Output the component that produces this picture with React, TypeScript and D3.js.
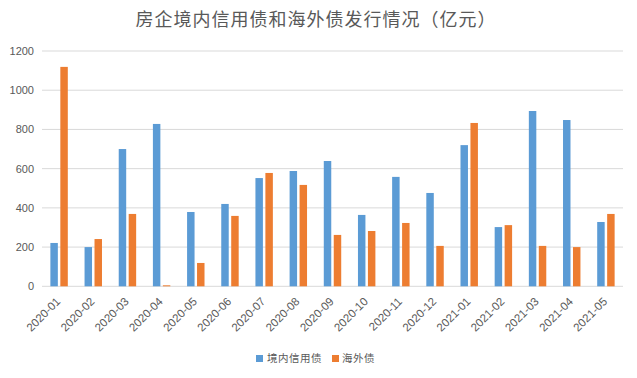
import React from "react";
import * as d3 from "d3";

const categories = ["2020-01","2020-02","2020-03","2020-04","2020-05","2020-06","2020-07","2020-08","2020-09","2020-10","2020-11","2020-12","2021-01","2021-02","2021-03","2021-04","2021-05"];
const domestic = [221,200,700,828,379,420,552,588,639,364,558,476,720,302,894,848,328];
const overseas = [1119,241,369,5,119,359,578,517,262,282,323,206,833,312,206,200,369];
const seriesNames = ["境内信用债","海外债"];
const colors = ["#5B9BD5","#ED7D31"];
const yTicks = [0,200,400,600,800,1000,1200];

const W = 637, H = 378;
const left = 42, right = 623, top = 51, bottom = 286.3;

export default function App() {
  const x0 = d3.scaleBand<string>().domain(categories).range([left, right]).paddingInner(0.49).paddingOuter(0.245);
  const x1 = d3.scaleBand<string>().domain(seriesNames).range([0, x0.bandwidth()]).paddingInner(0.25);
  const y = d3.scaleLinear().domain([0, 1200]).range([bottom, top]);
  const data = [domestic, overseas];
  const font = "'Liberation Sans', Arial, sans-serif";
  const step = x0.step();
  return (
    <svg width={W} height={H} style={{ position: "absolute", left: 0, top: 0, background: "#fff" }}>
      <text x={316} y={26} textAnchor="middle" fontSize={18} fill="#595959" fontFamily="'Noto Sans CJK SC', sans-serif" letterSpacing={1}>房企境内信用债和海外债发行情况（亿元）</text>
      {yTicks.map(t => (
        <g key={t}>
          <line x1={left} x2={right} y1={y(t)} y2={y(t)} stroke="#d9d9d9" strokeWidth={1} />
          <text x={34} y={y(t) + 4} textAnchor="end" fontSize={11} fill="#595959" fontFamily={font}>{t}</text>
        </g>
      ))}
      {categories.map((c, i) => (
        <g key={c}>
          {data.map((s, j) => (
            <rect key={j} x={(x0(c) as number) + (x1(seriesNames[j]) as number)} y={y(s[i])} width={x1.bandwidth()} height={bottom - y(s[i])} fill={colors[j]} />
          ))}
          <text transform={`translate(${left + step * (i + 0.5) + 2},${bottom + 16}) rotate(-45)`} textAnchor="end" fontSize={11.5} fill="#595959" fontFamily={font}>{c}</text>
        </g>
      ))}
      <g fontFamily="'Noto Sans CJK SC', sans-serif" fontSize={10.5} fill="#595959">
        <rect x={256} y={355} width={7} height={7} fill={colors[0]} />
        <text x={267} y={362} letterSpacing={0.5}>{seriesNames[0]}</text>
        <rect x={332} y={355} width={7} height={7} fill={colors[1]} />
        <text x={342} y={362} letterSpacing={0.5}>{seriesNames[1]}</text>
      </g>
    </svg>
  );
}
